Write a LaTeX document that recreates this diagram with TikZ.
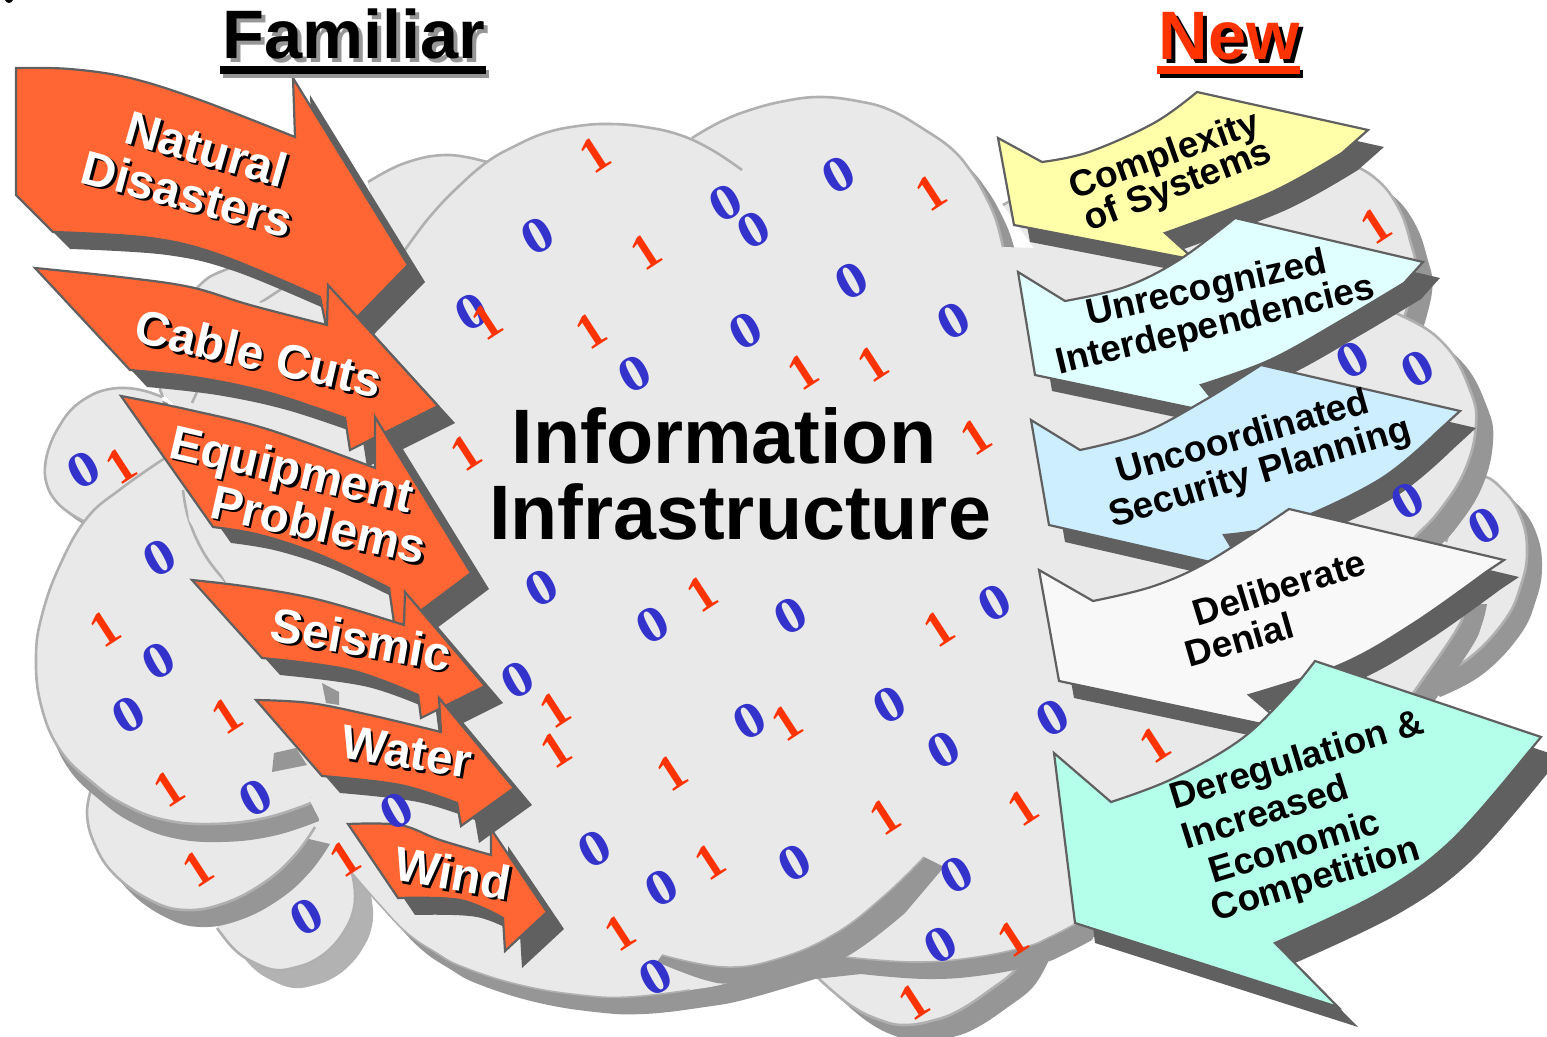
\documentclass[tikz,border=0pt]{standalone}
\usepackage{fontspec}
\setmainfont{Liberation Sans}
\newfontfamily\digitfont{Liberation Serif}
\newfontfamily\zerofont{Liberation Serif}[FakeStretch=1.2]
\definecolor{cloudfill}{HTML}{E9E9E9}
\definecolor{cloudshade}{HTML}{969696}
\definecolor{cloudlight}{HTML}{B2B2B2}
\definecolor{cloudedge}{HTML}{B0B0B0}
\definecolor{arrowdark}{HTML}{606060}
\definecolor{hotorange}{HTML}{FF6633}
\definecolor{newred}{HTML}{FF3300}
\definecolor{digitblue}{HTML}{3333CC}
\definecolor{paleyellow}{HTML}{FFFFAA}
\definecolor{palecyan}{HTML}{E0FFFF}
\definecolor{paleblue}{HTML}{CCEEFF}
\definecolor{palewhite}{HTML}{F8F8F8}
\definecolor{palemint}{HTML}{B4FFEA}
\tikzset{
  smoothpart/.style={smooth,tension=0.6},
  cloudpart/.style={smooth,tension=0.7},
  cfill/.style={fill=cloudfill},
  cshade/.style={fill=cloudshade},
  cedge/.style={draw=cloudedge,line width=1.3pt,line cap=butt},
  cedgethin/.style={draw=cloudedge,line width=0.8pt},
  arrowout/.style={draw=arrowdark,line width=1.1pt,line join=miter},
  arrowsh/.style={fill=arrowdark},
  onelabel/.style={anchor=base,inner sep=0pt,align=center},
  orangetext/.style={onelabel,font=\fontsize{24}{28}\selectfont\bfseries,text=white},
  orangeback/.style={onelabel,font=\fontsize{24}{28}\selectfont\bfseries,text=black},
  blacktext/.style={onelabel,font=\fontsize{18.5}{22}\selectfont\bfseries,text=black},
  zerodigit/.style={inner sep=0pt,rotate=29,text=digitblue,font=\zerofont\fontsize{25}{25}\selectfont\bfseries},
  onedigit/.style={inner sep=0pt,rotate=33,text=newred,font=\digitfont\fontsize{25}{25}\selectfont\bfseries},
  bigtitle/.style={onelabel,font=\fontsize{34.3}{40}\selectfont\bfseries},
  centertitle/.style={onelabel,font=\fontsize{38.6}{44}\selectfont\bfseries,text=black}
}
% lobe: shadow colour, shadow shift, arc coordinates, closing part
\newcommand\lobe[4]{%
  \fill[fill=#1,shift={#2}] plot[cloudpart] coordinates {#3} #4 -- cycle;
  \fill[cfill] plot[cloudpart] coordinates {#3} #4 -- cycle;
  \draw[cedge] plot[cloudpart] coordinates {#3};
}
% block arrow: fill colour, shadow shift, outline
\newcommand\blockarrow[3]{%
  \fill[arrowsh,shift={#2}] #3 -- cycle;
  \draw[arrowout,fill=#1] #3 -- cycle;
}
\newcommand\shadowlabel[5]{%
  \node[orangeback,rotate=#4] (#1back) at (#2+2.5,#3+2.5) {#5};
  \node[orangetext,rotate=#4] (#1) at (#2,#3) {#5};
}
\newcommand\maintop{plot[cloudpart] coordinates {(395,265)(412,240)(433,213)(458,187)(487,162)(515,146)(545,133)(578,126)(610,124)(645,127)(680,135)} -- plot[cloudpart] coordinates {(692,138)(720,122)(750,110)(785,101)(820,97)(857,101)(890,110)(925,130)(953,150)(972,173)(985,195)(996,220)(1003,247)}}
\newcommand\tomainbottom{-- plot[cloudpart] coordinates {(1077,923)(1050,937)(1025,947)(970,958)(912,962)(846,957)} -- plot[cloudpart] coordinates {(800,962)(732,982)(690,990)(629,997)(580,995)(520,985)(463,967)(435,952)(407,933)(380,905)(352,873)}}
\begin{document}
\begin{tikzpicture}[x=0.5pt,y=-0.5pt]
\clip (0,0) rectangle (1547,1037);
\useasboundingbox (0,0) rectangle (1547,1037);
% stray mark in the corner
\fill[black] (5,0) .. controls (7,4) and (11,4) .. (13,0) -- cycle;
% ---- back lobes
\lobe{cloudshade}{(6,6)}{(162,397)(145,391)(125,388)(105,390)(88,397)(72,409)(60,425)(50,445)(45,467)(47,485)(55,500)(68,512)(85,522)}{-- (170,470)}
\lobe{cloudshade}{(0,0)}{(368,182)(405,163)(447,155)(487,162)}{-- (520,300) -- (400,300)}
\lobe{cloudshade}{(0,0)}{(160,390)(170,335)(197,288)(232,267)(290,248)(340,245)}{-- (360,400) -- (190,420)}
\draw[cedge] plot[cloudpart] coordinates {(260,303)(283,288)};
\draw[cedge] (160,390) -- (163,397);
\draw[cedge] (197,392) -- (192,403);
\lobe{cloudlight}{(18,18)}{(217,928)(235,950)(255,963)(276,970)(297,967)(315,960)(332,947)(345,930)(353,912)(355,893)(352,873)}{-- (340,800) -- (250,800)}
\lobe{cloudshade}{(15,17)}{(93,783)(87,813)(95,845)(115,875)(150,900)(185,910)(225,903)(265,882)(295,855)(315,827)}{-- (200,800)}
\lobe{cloudshade}{(8,18)}{(165,458)(122,488)(87,518)(60,565)(42,615)(36,657)(41,705)(60,750)(93,783)(125,805)(165,820)(213,824)(265,818)(311,803)}{-- (300,600)}
\draw[cedge] plot[cloudpart] coordinates {(183,490)(189,520)(205,555)(226,582)};
% ---- right lobes
\lobe{cloudshade}{(18,17)}{(817,977)(850,1005)(880,1020)(905,1025)(935,1020)(960,1010)(990,990)(1015,970)(1030,945)}{-- (900,940)}
\lobe{cloudshade}{(17,17)}{(1003,205)(1100,165)(1250,150)(1310,152)(1345,162)(1375,178)(1397,205)(1410,240)(1415,275)(1400,330)}{-- (1100,340)}
\lobe{cloudshade}{(15,15)}{(1446,542)(1460,505)(1480,477)(1505,492)(1522,520)(1527,553)(1521,585)(1505,620)(1468,659)(1425,682)}{-- (1350,600)}
\lobe{cloudshade}{(17,14)}{(1470,590)(1465,610)(1454,634)(1414,692)(1395,720)}{-- (1300,700) -- (1300,590)}
\lobe{cloudshade}{(17,17)}{(1330,290)(1400,315)(1445,345)(1470,390)(1476,425)(1465,470)(1440,510)(1415,537)(1395,560)}{-- (1280,560)}
% ---- main body
\fill[cshade,shift={(15,17)}] \maintop -- (1000,400) -- (1000,800) -- (1100,880) \tomainbottom -- (330,840) -- (311,803) -- (300,700) -- cycle;
\fill[cfill] \maintop -- (1100,250) -- (1300,300) -- (1340,450) -- (1330,650) -- (1200,830) \tomainbottom -- (330,840) -- (311,803) -- (300,700) -- (226,582) -- (189,520) -- (183,470) -- (200,400) -- (260,303) -- cycle;
\draw[cedge] plot[cloudpart] coordinates {(395,265)(412,240)(433,213)(458,187)(487,162)(515,146)(545,133)(578,126)(610,124)(645,127)(680,135)(712,150)(742,170)};
\draw[cedge] plot[cloudpart] coordinates {(692,138)(720,122)(750,110)(785,101)(820,97)(857,101)(890,110)(925,130)(953,150)(972,173)(985,195)(996,220)(1003,247)};
\draw[cedgethin] plot[cloudpart] coordinates {(1077,923)(1050,937)(1025,947)(970,958)(912,962)(846,957)};
\draw[cedgethin] plot[cloudpart] coordinates {(690,990)(629,997)(580,995)(520,985)(463,967)(435,952)(407,933)(380,905)(352,873)};
% inner folds
\fill[cshade] plot[cloudpart] coordinates {(662,955)(725,967)(780,958)(836,933)(885,895)(924,857)} -- (944,867) -- plot[cloudpart] coordinates {(905,913)(846,957)(790,975)(736,983)(705,980)(657,962)} -- cycle;
\draw[cedgethin] plot[cloudpart] coordinates {(662,955)(725,967)(780,958)(836,933)(885,895)(924,857)};
\fill[cshade] (322,683) -- (339,692) -- (339,705) -- (326,703) -- cycle;
\fill[cshade] (274,753) -- (296,748) -- (307,765) -- (272,772) -- cycle;
% ---- familiar arrows
\blockarrow{hotorange}{(17,17)}{plot[smoothpart] coordinates {(16,68)(70,69)(130,78)(200,100)(295,137)} -- (293,78) -- (408,265) -- (330,345) -- plot[smoothpart] coordinates {(320,297)(220,255)(150,238)(53,232)} -- (16,195)}
\blockarrow{hotorange}{(17,17)}{plot[smoothpart] coordinates {(35,268)(120,277)(190,287)(250,305)(327,325)} -- (328,285) -- (438,406) -- (350,450) -- plot[smoothpart] coordinates {(345,418)(270,393)(200,378)(130,370)}}
\blockarrow{hotorange}{(18,16)}{plot[smoothpart] coordinates {(121,396)(190,410)(270,430)(375,468)} -- (375,417) -- (471,573) -- (395,630) -- plot[smoothpart] coordinates {(389,588)(320,555)(260,535)(213,527)}}
\blockarrow{hotorange}{(18,17)}{plot[smoothpart] coordinates {(192,580)(250,587)(320,600)(404,625)} -- (405,592) -- (485,686) -- (421,718) -- plot[smoothpart] coordinates {(418,695)(350,670)(262,658)}}
\blockarrow{hotorange}{(18,17)}{plot[smoothpart] coordinates {(256,700)(310,703)(370,715)(441,732)} -- (439,698) -- (514,788) -- (461,826) -- plot[smoothpart] coordinates {(457,803)(400,785)(322,776)}}
\blockarrow{hotorange}{(17,17)}{plot[smoothpart] coordinates {(348,824)(400,825)(440,840)(491,855)} -- (491,829) -- (547,912) -- (505,951) -- plot[smoothpart] coordinates {(503,918)(460,900)(398,898)}}
% ---- new arrows
\blockarrow{paleyellow}{(16,17)}{(998,138) -- plot[smoothpart] coordinates {(1042,162)(1089,152)(1154,123)(1197,92)} -- (1368,130) -- plot[smoothpart] coordinates {(1342,153)(1270,193)(1165,233)} -- (1195,260) -- (1014,225)}
\blockarrow{palecyan}{(17,16)}{(1018,272) -- plot[smoothpart] coordinates {(1065,301)(1125,287)(1179,260)(1235,218)} -- (1423,262) -- plot[smoothpart] coordinates {(1404,283)(1342,320)(1270,360)(1201,385)} -- (1225,415) -- (1035,375)}
\blockarrow{paleblue}{(16,17)}{(1031,420) -- plot[smoothpart] coordinates {(1080,450)(1143,433)(1205,400)(1261,365)} -- (1460,411) -- plot[smoothpart] coordinates {(1436,433)(1379,480)(1288,523)(1224,535)} -- (1245,570) -- (1049,525)}
\blockarrow{palewhite}{(15,17)}{(1039,570) -- plot[smoothpart] coordinates {(1093,601)(1154,586)(1211,560)(1289,509)} -- (1504,560) -- plot[smoothpart] coordinates {(1486,572)(1414,623)(1342,664)(1249,695)} -- (1290,730) -- (1059,681)}
\blockarrow{palemint}{(20,20)}{(1054,753) -- plot[smoothpart] coordinates {(1111,802)(1172,779)(1240,740)(1287,695)(1315,661)} -- (1541,737) -- plot[smoothpart] coordinates {(1522,760)(1450,842)(1378,894)(1275,943)} -- (1338,1007) -- (1075,923)}
% ---- digits
\foreach \px/\py [count=\i] in {538/236,726/203,754/230,839/175,852/281,472/312,746/331,954/321,635/374,1353/360,1418/369,1408/501,1485/526,84/470,160/558,159/661,129/715,256/798,397/811,542/588,653/625,791/616,995/603,518/680,750/721,890/705,944/750,1053/718,595/849,662/888,795/863,957/875,941/945,656/977,307/917}
  {\node[zerodigit] (zero\i) at (\px,\py) {0};}
\foreach \px/\py [count=\i] in {595/155,931/193,646/252,1376/226,487/322,591/331,803/372,873/364,466/453,976/437,121/466,105/629,227/716,169/789,198/869,345/859,702/594,939/629,555/710,556/750,787/723,672/773,1155/745,1023/808,885/817,710/862,620/933,1013/939,914/1002}
  {\node[onedigit] (one\i) at (\px,\py) {1};}
% ---- left labels
\shadowlabel{natural}{202}{165}{-16}{Natural}
\shadowlabel{disasters}{183}{210}{-15}{Disasters}
\shadowlabel{cable}{255}{370}{-13}{Cable Cuts}
\shadowlabel{equipment}{288}{485}{-13}{Equipment}
\shadowlabel{problems}{315}{541}{-12.5}{Problems}
\shadowlabel{seismic}{358}{656}{-10}{Seismic}
\shadowlabel{water}{404}{768}{-9}{Water}
\shadowlabel{wind}{450}{890}{-10}{Wind}
% ---- right labels
\node[blacktext,rotate=19.5] (complexity) at (1168,166) {Complexity};
\node[blacktext,rotate=21] (ofsystems) at (1182,196) {of Systems};
\node[blacktext,rotate=12.5] (unrecognized) at (1209,299) {Unrecognized};
\node[blacktext,rotate=13.5] (interdep) at (1218,336) {Interdependencies};
\node[blacktext,rotate=16] (uncoord) at (1246,448) {Uncoordinated};
\node[blacktext,rotate=16.5] (security) at (1263,483) {Security Planning};
\node[blacktext,rotate=17] (deliberate) at (1283,600) {Deliberate};
\node[blacktext,rotate=16] (denial) at (1243,652) {Denial};
\node[blacktext,rotate=17] (dereg) at (1300,771) {Deregulation \&};
\node[blacktext,rotate=17.5] (increased) at (1269,824) {Increased};
\node[blacktext,rotate=17] (economic) at (1298,858) {Economic};
\node[blacktext,rotate=17] (competition) at (1319,890) {Competition};
% ---- centre
\node[centertitle] (information) at (724,464) {Information};
\node[centertitle] (infrastructure) at (740,539) {Infrastructure};
% ---- headings
\node[bigtitle,text=cloudshade] (familiarback) at (358,63) {Familiar};
\fill[cloudshade] (223,70) rectangle (489,78);
\node[bigtitle,text=black] (familiar) at (354,59) {Familiar};
\fill[black] (220,66) rectangle (486,74);
\node[bigtitle,text=black] (newback) at (1233,64) {New};
\fill[black] (1160,70) rectangle (1303,78);
\node[bigtitle,text=newred] (newhead) at (1229,60) {New};
\fill[newred] (1157,66) rectangle (1300,74);
\end{tikzpicture}
\end{document}
